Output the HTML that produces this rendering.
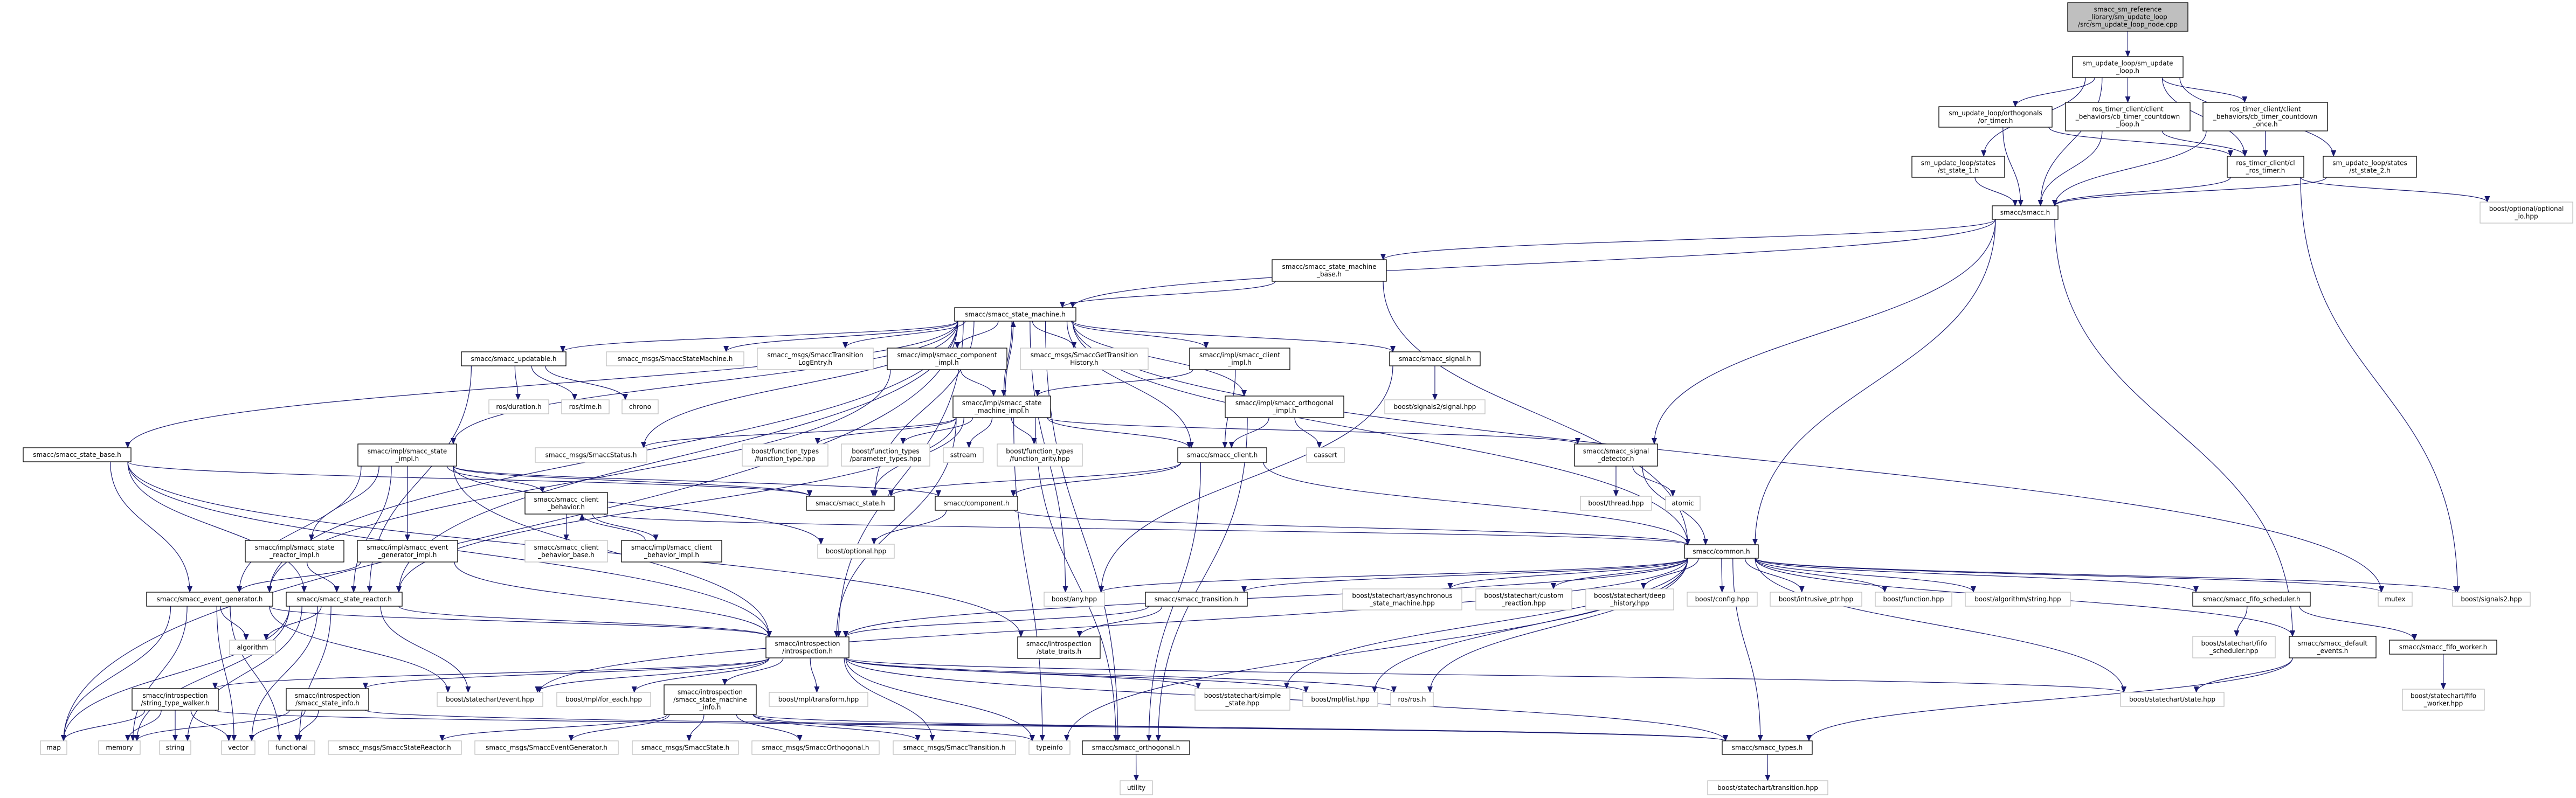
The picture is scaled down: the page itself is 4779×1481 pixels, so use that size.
<!DOCTYPE html>
<html><head><meta charset="utf-8"><style>
html,body{margin:0;padding:0;background:#fff}
svg{display:block}
text{font-family:"DejaVu Sans","Liberation Sans",sans-serif;font-size:12px;fill:#000;text-anchor:middle}
rect{fill:#fff;stroke:#000;stroke-width:1.3}
rect.g{stroke:#bfbfbf}
path.e{fill:none;stroke:#191970;stroke-width:1.2}
</style></head><body>
<svg id="s" width="4779" height="1481" viewBox="0 0 4779 1481" xmlns="http://www.w3.org/2000/svg">
<defs><marker id="a" markerWidth="12" markerHeight="10" refX="11" refY="5" orient="auto" markerUnits="userSpaceOnUse"><path d="M0,0 L12,5 L0,10 z" fill="#191970"/></marker></defs>
<g id="edges"></g>
<g id="nodes">
<rect id="root" x="3836" y="5" width="223" height="53" style="fill:#bfbfbf"/><text x="3947.5" y="21.5">smacc_sm_reference</text><text x="3947.5" y="35.5">_library/sm_update_loop</text><text x="3947.5" y="49.5">/src/sm_update_loop_node.cpp</text>
<rect id="sul" x="3845" y="105" width="205" height="39"/><text x="3947.5" y="121.5">sm_update_loop/sm_update</text><text x="3947.5" y="135.5">_loop.h</text>
<rect id="ort" x="3597" y="198" width="210" height="38"/><text x="3702" y="214">sm_update_loop/orthogonals</text><text x="3702" y="228">/or_timer.h</text>
<rect id="cbl" x="3832" y="190" width="231" height="53"/><text x="3947.5" y="206.5">ros_timer_client/client</text><text x="3947.5" y="220.5">_behaviors/cb_timer_countdown</text><text x="3947.5" y="234.5">_loop.h</text>
<rect id="cbo" x="4087" y="190" width="231" height="53"/><text x="4202.5" y="206.5">ros_timer_client/client</text><text x="4202.5" y="220.5">_behaviors/cb_timer_countdown</text><text x="4202.5" y="234.5">_once.h</text>
<rect id="st1" x="3547" y="290" width="172" height="39"/><text x="3633" y="306.5">sm_update_loop/states</text><text x="3633" y="320.5">/st_state_1.h</text>
<rect id="crt" x="4132" y="290" width="142" height="39"/><text x="4203" y="306.5">ros_timer_client/cl</text><text x="4203" y="320.5">_ros_timer.h</text>
<rect id="st2" x="4310" y="290" width="173" height="39"/><text x="4396.5" y="306.5">sm_update_loop/states</text><text x="4396.5" y="320.5">/st_state_2.h</text>
<rect id="smacc" x="3696" y="382" width="122" height="25"/><text x="3757" y="398.5">smacc/smacc.h</text>
<rect class="g" id="optio" x="4601" y="375" width="172" height="39"/><text x="4687" y="391.5">boost/optional/optional</text><text x="4687" y="405.5">_io.hpp</text>
<rect id="smb" x="2360" y="482" width="212" height="40"/><text x="2466" y="499">smacc/smacc_state_machine</text><text x="2466" y="513">_base.h</text>
<rect id="sm" x="1771" y="571" width="225" height="25"/><text x="1883.5" y="587.5">smacc/smacc_state_machine.h</text>
<rect id="upd" x="856" y="653" width="194" height="26"/><text x="953" y="670">smacc/smacc_updatable.h</text>
<rect class="g" id="ssm" x="1125" y="653" width="255" height="26"/><text x="1252.5" y="670">smacc_msgs/SmaccStateMachine.h</text>
<rect class="g" id="tle" x="1405" y="646" width="215" height="40"/><text x="1512.5" y="663">smacc_msgs/SmaccTransition</text><text x="1512.5" y="677">LogEntry.h</text>
<rect id="cimp" x="1646" y="646" width="222" height="40"/><text x="1757" y="663">smacc/impl/smacc_component</text><text x="1757" y="677">_impl.h</text>
<rect class="g" id="gth" x="1893" y="646" width="237" height="40"/><text x="2011.5" y="663">smacc_msgs/SmaccGetTransition</text><text x="2011.5" y="677">History.h</text>
<rect id="clim" x="2207" y="646" width="186" height="40"/><text x="2300" y="663">smacc/impl/smacc_client</text><text x="2300" y="677">_impl.h</text>
<rect id="sig" x="2578" y="653" width="168" height="26"/><text x="2662" y="670">smacc/smacc_signal.h</text>
<rect class="g" id="dur" x="907" y="742" width="111" height="26"/><text x="962.5" y="759">ros/duration.h</text>
<rect class="g" id="time" x="1042" y="742" width="88" height="26"/><text x="1086" y="759">ros/time.h</text>
<rect class="g" id="chrono" x="1154" y="742" width="67" height="26"/><text x="1187.5" y="759">chrono</text>
<rect id="smi" x="1768" y="735" width="181" height="40"/><text x="1858.5" y="752">smacc/impl/smacc_state</text><text x="1858.5" y="766">_machine_impl.h</text>
<rect id="orim" x="2273" y="735" width="220" height="40"/><text x="2383" y="752">smacc/impl/smacc_orthogonal</text><text x="2383" y="766">_impl.h</text>
<rect class="g" id="s2sig" x="2569" y="742" width="186" height="26"/><text x="2662" y="759">boost/signals2/signal.hpp</text>
<rect id="sbase" x="43" y="831" width="200" height="26"/><text x="143" y="848">smacc/smacc_state_base.h</text>
<rect id="simp" x="664" y="824" width="183" height="41"/><text x="755.5" y="841.5">smacc/impl/smacc_state</text><text x="755.5" y="855.5">_impl.h</text>
<rect class="g" id="status" x="993" y="831" width="207" height="27"/><text x="1096.5" y="848.5">smacc_msgs/SmaccStatus.h</text>
<rect class="g" id="ftype" x="1377" y="824" width="159" height="41"/><text x="1456.5" y="841.5">boost/function_types</text><text x="1456.5" y="855.5">/function_type.hpp</text>
<rect class="g" id="ptypes" x="1561" y="824" width="164" height="41"/><text x="1643" y="841.5">boost/function_types</text><text x="1643" y="855.5">/parameter_types.hpp</text>
<rect class="g" id="sstream" x="1750" y="831" width="74" height="27"/><text x="1787" y="848.5">sstream</text>
<rect class="g" id="farity" x="1850" y="824" width="158" height="41"/><text x="1929" y="841.5">boost/function_types</text><text x="1929" y="855.5">/function_arity.hpp</text>
<rect id="client" x="2185" y="831" width="165" height="27"/><text x="2267.5" y="848.5">smacc/smacc_client.h</text>
<rect class="g" id="cassert" x="2424" y="831" width="70" height="27"/><text x="2459" y="848.5">cassert</text>
<rect id="sdet" x="2921" y="824" width="154" height="41"/><text x="2998" y="841.5">smacc/smacc_signal</text><text x="2998" y="855.5">_detector.h</text>
<rect id="cbh" x="974" y="914" width="153" height="40"/><text x="1050.5" y="931">smacc/smacc_client</text><text x="1050.5" y="945">_behavior.h</text>
<rect id="state" x="1496" y="921" width="163" height="26"/><text x="1577.5" y="938">smacc/smacc_state.h</text>
<rect id="comp" x="1735" y="921" width="153" height="26"/><text x="1811.5" y="938">smacc/component.h</text>
<rect class="g" id="thread" x="2932" y="921" width="132" height="26"/><text x="2998" y="938">boost/thread.hpp</text>
<rect class="g" id="atomic" x="3090" y="921" width="64" height="26"/><text x="3122" y="938">atomic</text>
<rect id="sri" x="455" y="1003" width="183" height="40"/><text x="546.5" y="1020">smacc/impl/smacc_state</text><text x="546.5" y="1034">_reactor_impl.h</text>
<rect id="egi" x="663" y="1003" width="186" height="40"/><text x="756" y="1020">smacc/impl/smacc_event</text><text x="756" y="1034">_generator_impl.h</text>
<rect class="g" id="cbb" x="974" y="1003" width="153" height="40"/><text x="1050.5" y="1020">smacc/smacc_client</text><text x="1050.5" y="1034">_behavior_base.h</text>
<rect id="cbi" x="1153" y="1003" width="186" height="40"/><text x="1246" y="1020">smacc/impl/smacc_client</text><text x="1246" y="1034">_behavior_impl.h</text>
<rect class="g" id="bopt" x="1517" y="1010" width="142" height="26"/><text x="1588" y="1027">boost/optional.hpp</text>
<rect id="common" x="3125" y="1011" width="137" height="25"/><text x="3193.5" y="1027.5">smacc/common.h</text>
<rect id="eg" x="272" y="1099" width="234" height="26"/><text x="389" y="1116">smacc/smacc_event_generator.h</text>
<rect id="sr" x="531" y="1099" width="215" height="26"/><text x="638.5" y="1116">smacc/smacc_state_reactor.h</text>
<rect class="g" id="any" x="1937" y="1099" width="112" height="26"/><text x="1993" y="1116">boost/any.hpp</text>
<rect id="trans" x="2125" y="1099" width="189" height="26"/><text x="2219.5" y="1116">smacc/smacc_transition.h</text>
<rect class="g" id="async" x="2491" y="1093" width="221" height="39"/><text x="2601.5" y="1109.5">boost/statechart/asynchronous</text><text x="2601.5" y="1123.5">_state_machine.hpp</text>
<rect class="g" id="custom" x="2738" y="1093" width="178" height="39"/><text x="2827" y="1109.5">boost/statechart/custom</text><text x="2827" y="1123.5">_reaction.hpp</text>
<rect class="g" id="deep" x="2942" y="1093" width="163" height="39"/><text x="3023.5" y="1109.5">boost/statechart/deep</text><text x="3023.5" y="1123.5">_history.hpp</text>
<rect class="g" id="config" x="3130" y="1099" width="130" height="26"/><text x="3195" y="1116">boost/config.hpp</text>
<rect class="g" id="intr" x="3284" y="1099" width="170" height="26"/><text x="3369" y="1116">boost/intrusive_ptr.hpp</text>
<rect class="g" id="func" x="3479" y="1099" width="142" height="26"/><text x="3550" y="1116">boost/function.hpp</text>
<rect class="g" id="algstr" x="3646" y="1099" width="195" height="26"/><text x="3743.5" y="1116">boost/algorithm/string.hpp</text>
<rect id="fifos" x="4068" y="1099" width="218" height="26"/><text x="4177" y="1116">smacc/smacc_fifo_scheduler.h</text>
<rect class="g" id="mutex" x="4412" y="1099" width="63" height="26"/><text x="4443.5" y="1116">mutex</text>
<rect class="g" id="sig2" x="4550" y="1099" width="144" height="26"/><text x="4622" y="1116">boost/signals2.hpp</text>
<rect class="g" id="algo" x="426" y="1188" width="85" height="27"/><text x="468.5" y="1205.5">algorithm</text>
<rect id="intro" x="1421" y="1182" width="154" height="39"/><text x="1498" y="1198.5">smacc/introspection</text><text x="1498" y="1212.5">/introspection.h</text>
<rect id="traits" x="1888" y="1182" width="153" height="40"/><text x="1964.5" y="1199">smacc/introspection</text><text x="1964.5" y="1213">/state_traits.h</text>
<rect class="g" id="fifosh" x="4068" y="1181" width="153" height="40"/><text x="4144.5" y="1198">boost/statechart/fifo</text><text x="4144.5" y="1212">_scheduler.hpp</text>
<rect id="defev" x="4247" y="1181" width="161" height="40"/><text x="4327.5" y="1198">smacc/smacc_default</text><text x="4327.5" y="1212">_events.h</text>
<rect id="fifow" x="4433" y="1188" width="199" height="26"/><text x="4532.5" y="1205">smacc/smacc_fifo_worker.h</text>
<rect id="stw" x="245" y="1278" width="160" height="40"/><text x="325" y="1295">smacc/introspection</text><text x="325" y="1309">/string_type_walker.h</text>
<rect id="sinfo" x="531" y="1278" width="153" height="40"/><text x="607.5" y="1295">smacc/introspection</text><text x="607.5" y="1309">/smacc_state_info.h</text>
<rect class="g" id="event" x="811" y="1285" width="196" height="26"/><text x="909" y="1302">boost/statechart/event.hpp</text>
<rect class="g" id="foreach" x="1033" y="1285" width="174" height="26"/><text x="1120" y="1302">boost/mpl/for_each.hpp</text>
<rect id="sminfo" x="1232" y="1271" width="171" height="55"/><text x="1317.5" y="1288.5">smacc/introspection</text><text x="1317.5" y="1302.5">/smacc_state_machine</text><text x="1317.5" y="1316.5">_info.h</text>
<rect class="g" id="transform" x="1427" y="1285" width="183" height="26"/><text x="1518.5" y="1302">boost/mpl/transform.hpp</text>
<rect class="g" id="simple" x="2217" y="1278" width="176" height="40"/><text x="2305" y="1295">boost/statechart/simple</text><text x="2305" y="1309">_state.hpp</text>
<rect class="g" id="list" x="2417" y="1285" width="139" height="26"/><text x="2486.5" y="1302">boost/mpl/list.hpp</text>
<rect class="g" id="ros" x="2580" y="1285" width="79" height="26"/><text x="2619.5" y="1302">ros/ros.h</text>
<rect class="g" id="statehpp" x="3934" y="1285" width="192" height="26"/><text x="4030" y="1302">boost/statechart/state.hpp</text>
<rect class="g" id="fifowh" x="4457" y="1279" width="152" height="39"/><text x="4533" y="1295.5">boost/statechart/fifo</text><text x="4533" y="1309.5">_worker.hpp</text>
<rect class="g" id="map" x="75" y="1375" width="49" height="25"/><text x="99.5" y="1391.5">map</text>
<rect class="g" id="memory" x="183" y="1375" width="77" height="25"/><text x="221.5" y="1391.5">memory</text>
<rect class="g" id="string" x="296" y="1375" width="58" height="25"/><text x="325" y="1391.5">string</text>
<rect class="g" id="vector" x="411" y="1375" width="62" height="25"/><text x="442" y="1391.5">vector</text>
<rect class="g" id="functional" x="498" y="1375" width="86" height="25"/><text x="541" y="1391.5">functional</text>
<rect class="g" id="msr" x="609" y="1375" width="247" height="25"/><text x="732.5" y="1391.5">smacc_msgs/SmaccStateReactor.h</text>
<rect class="g" id="meg" x="881" y="1375" width="266" height="25"/><text x="1014" y="1391.5">smacc_msgs/SmaccEventGenerator.h</text>
<rect class="g" id="mst" x="1173" y="1375" width="197" height="25"/><text x="1271.5" y="1391.5">smacc_msgs/SmaccState.h</text>
<rect class="g" id="mor" x="1395" y="1375" width="236" height="25"/><text x="1513" y="1391.5">smacc_msgs/SmaccOrthogonal.h</text>
<rect class="g" id="mtr" x="1657" y="1375" width="227" height="25"/><text x="1770.5" y="1391.5">smacc_msgs/SmaccTransition.h</text>
<rect class="g" id="typeinfo" x="1909" y="1375" width="76" height="25"/><text x="1947" y="1391.5">typeinfo</text>
<rect id="orth" x="2008" y="1375" width="199" height="25"/><text x="2107.5" y="1391.5">smacc/smacc_orthogonal.h</text>
<rect id="types" x="3195" y="1375" width="167" height="25"/><text x="3278.5" y="1391.5">smacc/smacc_types.h</text>
<rect class="g" id="utility" x="2078" y="1449" width="60" height="26"/><text x="2108" y="1466">utility</text>
<rect class="g" id="trhpp" x="3168" y="1449" width="223" height="26"/><text x="3279.5" y="1466">boost/statechart/transition.hpp</text>
</g>
<script>
(function(){
var E="root>sul sul>ort sul>cbl sul>cbo sul>st1 sul>crt sul>st2 sul>smacc ort>smacc ort>crt cbl>smacc cbl>crt cbo>smacc cbo>crt st1>smacc crt>smacc crt>optio crt>sig2 st2>smacc smacc>smb smacc>common smacc>sdet smacc>defev smacc>sm smb>sm smb>common "+
"sm>upd sm>ssm sm>tle sm>cimp sm>gth sm>clim sm>sig sm>smi sm>orim sm>status sm>simp sm>sbase sm>sr sm>state sm>map sm>mutex sm>common sm>any sm>intro sm>eg sm>orth sm>client "+
"upd>dur upd>time upd>chrono upd>sr cimp>smi cimp>eg clim>smi clim>client smi>ftype smi>ptypes smi>sstream smi>farity smi>client smi>sdet smi>status smi>intro smi>typeinfo smi>sm smi>orth smi>state smi>sr "+
"orim>client orim>cassert orim>orth sig>s2sig sig>any sdet>thread sdet>atomic sdet>common client>comp client>common client>state client>orth comp>bopt comp>common "+
"simp>sri simp>egi simp>cbh simp>state simp>comp simp>intro simp>sr simp>eg simp>bopt cbh>cbb cbh>cbi cbi>cbh cbh>common sbase>state sbase>sr sbase>eg sbase>traits sbase>intro "+
"sri>sr egi>eg egi>intro sr>algo sr>intro sr>map sr>memory sr>vector sr>functional sr>event sr>string eg>algo eg>intro eg>map eg>memory eg>vector eg>event eg>functional "+
"intro>stw intro>sinfo intro>event intro>foreach intro>sminfo intro>transform intro>list intro>ros intro>typeinfo intro>mtr intro>simple intro>types intro>statehpp "+
"stw>map stw>memory stw>string stw>vector stw>types sinfo>memory sinfo>vector sinfo>functional sinfo>types sminfo>msr sminfo>meg sminfo>mst sminfo>mor sminfo>mtr sminfo>typeinfo sminfo>types "+
"common>any common>trans common>async common>custom common>deep common>config common>intr common>func common>algstr common>fifos common>mutex common>sig2 common>defev common>statehpp common>intro common>event common>simple common>list common>ros common>types common>typeinfo "+
"fifos>fifosh fifos>fifow fifow>fifowh defev>statehpp defev>types trans>intro trans>traits orth>utility types>trhpp";
var g=document.getElementById('edges'),ns="http://www.w3.org/2000/svg";
function R(id){var r=document.getElementById(id);return{x:+r.getAttribute('x'),y:+r.getAttribute('y'),w:+r.getAttribute('width'),h:+r.getAttribute('height')};}
function cl(v,a,b){return Math.max(a,Math.min(b,v));}
E.split(' ').forEach(function(p){var q=p.split('>');var a=R(q[0]),b=R(q[1]);
var acx=a.x+a.w/2,bcx=b.x+b.w/2,sx,sy,tx,ty;
var down=b.y>a.y+a.h-2;
sx=acx+cl((bcx-acx)*0.25,-a.w/2+6,a.w/2-6);tx=bcx+cl((acx-bcx)*0.15,-b.w/2+6,b.w/2-6);
if(down){sy=a.y+a.h;ty=b.y;}else{sy=a.y;ty=b.y+b.h;}
var dy=(ty-sy)*0.5;
var d="M"+sx+","+sy+" C"+sx+","+(sy+dy)+" "+tx+","+(ty-dy)+" "+tx+","+ty;
var e=document.createElementNS(ns,'path');e.setAttribute('d',d);e.setAttribute('class','e');e.setAttribute('marker-end','url(#a)');g.appendChild(e);});
})();
</script>
</svg>
</body></html>
